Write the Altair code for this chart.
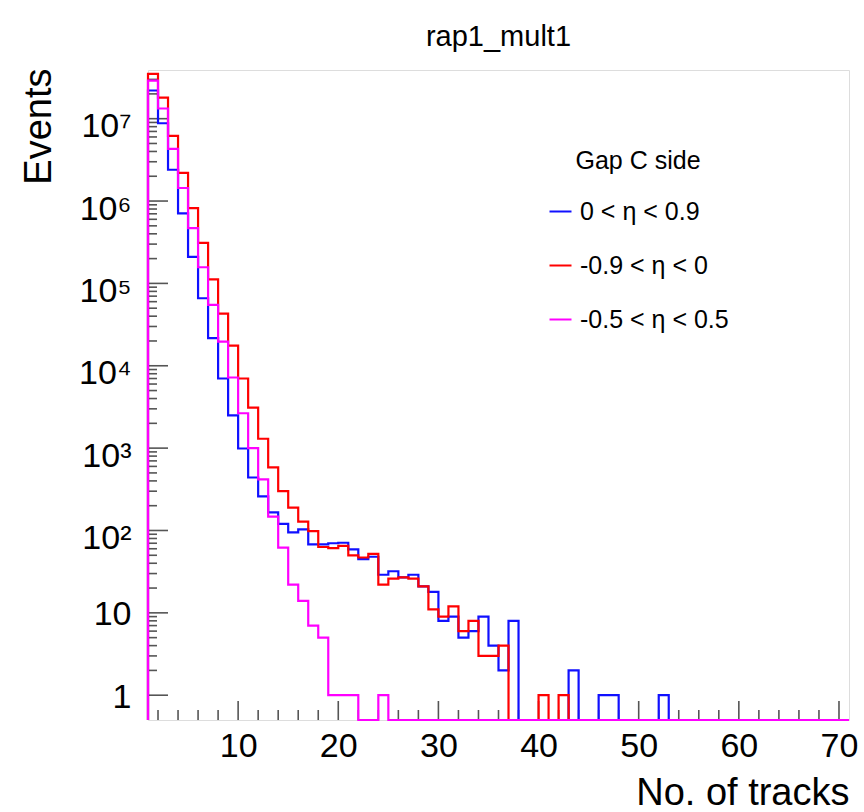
import altair as alt
import pandas as pd

# ---------------- data ----------------
title_text = "rap1_mult1"
x_title = "No. of tracks"
y_title = "Events"
legend_title = "Gap C side"
series_names = ["0 < η < 0.9", "-0.9 < η < 0", "-0.5 < η < 0.5"]
series_colors = ["#1010ff", "#ff0000", "#ff00ff"]

# bin k spans [k, k+1]
bin_low_edges = list(range(1, 71))
bin_upper_edge = 71

blue = [22000000, 8800000, 2400000, 710000, 210000, 66000, 21600, 7000, 2500, 990,
        440, 260, 166, 120, 95, 103, 68, 68, 70, 71,
        59, 45, 48, 29, 32, 27, 29, 21, 18, 8,
        9, 5, 6, 9, 4, 2, 8, 0, 0, 0,
        0, 0, 2, 0, 0, 1, 1, 0, 0, 0,
        0, 1, 0, 0, 0, 0, 0, 0, 0, 0,
        0, 0, 0, 0, 0, 0, 0, 0, 0, 0]
red = [35000000, 18000000, 6200000, 2200000, 820000, 310000, 112000, 43000, 17600, 7000,
       3100, 1300, 585, 300, 189, 128, 98, 63, 61, 65,
       50, 47, 52, 22, 26, 27, 26, 21, 11, 9,
       12, 6, 8, 3, 3, 4, 0, 0, 0, 1,
       0, 1, 0, 0, 0, 0, 0, 0, 0, 0,
       0, 0, 0, 0, 0, 0, 0, 0, 0, 0,
       0, 0, 0, 0, 0, 0, 0, 0, 0, 0]
magenta = [29000000, 13300000, 4300000, 1440000, 470000, 157000, 55000, 19600, 7200, 2650,
           1000, 418, 147, 62, 22, 14, 7, 5, 1, 1,
           1, 0, 0, 1, 0, 0, 0, 0, 0, 0,
           0, 0, 0, 0, 0, 0, 0, 0, 0, 0,
           0, 0, 0, 0, 0, 0, 0, 0, 0, 0,
           0, 0, 0, 0, 0, 0, 0, 0, 0, 0,
           0, 0, 0, 0, 0, 0, 0, 0, 0, 0]

x_major_ticks = [10, 20, 30, 40, 50, 60, 70]
x_minor_ticks = [2, 4, 6, 8, 12, 14, 16, 18, 22, 24, 26, 28, 32, 34, 36, 38,
                 42, 44, 46, 48, 52, 54, 56, 58, 62, 64, 66, 68]
y_major_ticks = [1, 10, 100, 1000, 10000, 100000, 1000000, 10000000]
y_major_labels = ["1", "10", "10²", "10³", "10⁴", "10⁵", "10⁶", "10⁷"]
y_minor_ticks = [m * d for d in [1, 10, 100, 1000, 10000, 100000, 1000000]
                 for m in [2, 3, 4, 5, 6, 7, 8, 9]] + [20000000, 30000000]

X_DOMAIN = [1, 71]
Y_DOMAIN = [0.5, 3.9e7]

FONT = "Liberation Sans"
W, H = 701, 650

# ---------------- build step rows ----------------
rows = []
for name, vals in zip(series_names, [blue, red, magenta]):
    pts = [(bin_low_edges[0], 0)] + list(zip(bin_low_edges, vals)) + [(bin_upper_edge, vals[-1])]
    for i, (x, c) in enumerate(pts):
        rows.append({"series": name, "i": i, "x": x, "count": c})
hist_df = pd.DataFrame(rows)

xscale = alt.Scale(domain=X_DOMAIN, nice=False, zero=False)
yscale = alt.Scale(type="log", domain=Y_DOMAIN, nice=False)

label_array = "[" + ",".join("'" + s + "'" for s in y_major_labels) + "]"

x_axis = alt.Axis(
    values=x_major_ticks, format="d", grid=False, domain=False, ticks=False, tickSize=0,
    labelFont=FONT, labelFontSize=34, labelColor="black", labelPadding=9,
    labelFlush=False, labelOverlap=False,
    title=x_title, titleFont=FONT, titleFontSize=38, titleFontWeight="normal",
    titleColor="black", titleAnchor="end", titleAlign="right",
    titleBaseline="alphabetic", titleX=W, titleY=84,
)
y_axis = alt.Axis(
    values=y_major_ticks, labelExpr=label_array + "[round(log(datum.value)/LN10)]",
    grid=False, domain=False, ticks=False, tickSize=0,
    labelFont=FONT, labelFontSize=34, labelColor="black", labelPadding=17,
    labelOffset={"condition": {"test": "datum.value >= 100", "value": 8}, "value": 2},
    labelFlush=False, labelOverlap=False,
    title=y_title, titleFont=FONT, titleFontSize=38, titleFontWeight="normal",
    titleColor="black", titleAngle=270, titleAlign="right",
    titleBaseline="alphabetic", titleX=-98, titleY=-2,
)

color = alt.Color(
    "series:N",
    scale=alt.Scale(domain=series_names, range=series_colors),
    legend=alt.Legend(
        title=legend_title, orient="none", legendX=400, legendY=79, padding=0,
        symbolType="stroke", symbolSize=484, symbolStrokeWidth=2,
        labelFont=FONT, labelFontSize=25, labelColor="black", labelOffset=7, labelLimit=0,
        titleFont=FONT, titleFontSize=25, titleFontWeight="normal", titleColor="black",
        titleAnchor="middle", titlePadding=25, rowPadding=28,
    ),
)

base = alt.Chart(hist_df).transform_calculate(
    yplot="max(datum.count, 0.5)"
)

hist_layers = []
for name in series_names:
    hist_layers.append(
        base.transform_filter(alt.datum.series == name)
        .mark_line(interpolate="step-after", strokeWidth=2.2)
        .encode(
            x=alt.X("x:Q", scale=xscale, axis=x_axis),
            y=alt.Y("yplot:Q", scale=yscale, axis=y_axis),
            color=color,
            order=alt.Order("i:Q"),
        )
    )

TICK_COLOR = "#555555"


def xticks(vals, length):
    df = pd.DataFrame({"x": vals})
    return alt.Chart(df).mark_rule(color=TICK_COLOR, strokeWidth=1.6).encode(
        x=alt.X("x:Q", scale=xscale, axis=x_axis),
        y=alt.value(H),
        y2=alt.value(H - length),
    )


def yticks(vals, length):
    df = pd.DataFrame({"yplot": vals})
    return alt.Chart(df).mark_rule(color=TICK_COLOR, strokeWidth=1.6).encode(
        y=alt.Y("yplot:Q", scale=yscale, axis=y_axis),
        x=alt.value(0),
        x2=alt.value(length),
    )


chart = alt.layer(
    xticks(x_minor_ticks, 10),
    xticks(x_major_ticks, 19),
    yticks(y_minor_ticks, 9),
    yticks(y_major_ticks, 20),
    *hist_layers,
).properties(
    width=W,
    height=H,
    title=alt.TitleParams(title_text, font=FONT, fontSize=29, fontWeight="normal",
                          color="black", anchor="middle", frame="group", offset=24,
                          baseline="alphabetic", dy=31),
    autosize=alt.AutoSizeParams(type="none"),
    padding={"left": 148, "top": 70, "right": 15, "bottom": 92},
).configure_view(
    stroke="#666666", strokeWidth=1.6
).configure(background="white")

chart.save("out.html", embed_options={"renderer": "svg", "actions": False})
